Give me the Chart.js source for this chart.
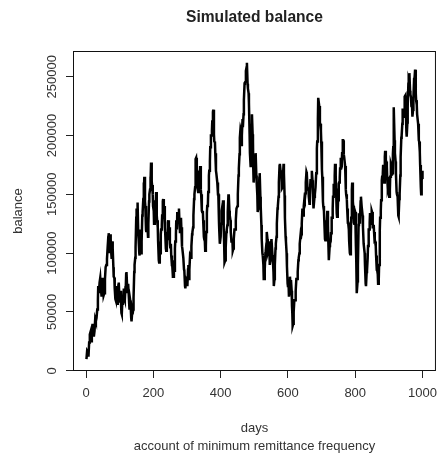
<!DOCTYPE html>
<html>
<head>
<meta charset="utf-8">
<script src="https://cdn.jsdelivr.net/npm/chart.js@4/dist/chart.umd.min.js"></script>
<style>
  html, body { margin: 0; padding: 0; background: #fff; }
  #wrap { width: 445px; height: 457px; }
</style>
</head>
<body>
<div id="wrap"><canvas id="c" width="445" height="457"></canvas></div>
<script>
// Simulated account balance by day
const days = [
  1,3,5,7,9,11,13,15,17,19,
  21,23,25,27,29,31,33,35,36,38,
  40,42,44,46,48,50,52,54,56,58,
  60,62,64,66,67,69,70,72,73,75,
  76,78,79,81,82,84,85,87,88,90,
  91,93,94,96,97,99,100,102,103,105,
  106,108,109,111,112,114,115,117,118,119,
  120,122,123,125,126,128,129,131,132,134,
  135,137,138,140,141,143,144,146,147,149,
  150,152,153,155,156,158,159,161,162,164,
  165,167,168,170,171,172,173,175,176,178,
  179,181,182,184,185,187,188,190,191,192,
  193,195,196,198,199,201,202,204,205,207,
  208,210,211,213,214,216,217,219,220,222,
  223,225,226,228,229,231,232,234,235,237,
  238,240,241,243,244,246,247,249,250,252,
  253,255,256,258,259,261,262,264,265,267,
  268,270,271,273,274,276,277,279,280,282,
  283,285,286,288,289,291,292,294,295,297,
  298,300,301,303,304,306,307,309,310,312,
  313,315,316,318,319,321,322,324,325,326,
  327,329,330,332,333,335,336,338,339,341,
  342,344,345,347,348,350,351,353,354,356,
  357,359,360,362,363,365,366,368,369,371,
  372,374,375,377,378,380,381,383,384,386,
  387,389,390,392,393,395,396,397,398,400,
  401,403,404,406,407,409,410,411,412,414,
  415,417,418,420,421,423,424,426,427,429,
  430,432,433,435,436,438,439,441,442,444,
  445,447,448,450,451,453,454,456,457,459,
  460,462,463,465,466,468,469,471,472,474,
  475,477,478,480,481,483,484,486,487,489,
  490,492,493,495,496,497,498,500,501,503,
  504,506,507,509,510,512,513,515,516,518,
  519,521,522,524,525,527,528,530,531,533,
  534,536,537,539,540,542,543,545,546,548,
  549,551,552,554,555,557,558,560,561,563,
  564,566,567,569,570,572,573,575,576,578,
  579,581,582,584,585,587,588,590,591,593,
  594,596,597,599,600,602,603,605,606,608,
  609,611,612,613,614,616,617,619,620,622,
  623,625,626,628,629,631,632,634,635,637,
  638,640,641,643,644,646,647,649,650,652,
  653,655,656,658,659,661,662,664,665,667,
  668,670,671,673,674,676,677,679,680,682,
  684,686,687,689,690,692,693,695,696,698,
  699,701,702,704,705,707,708,710,711,713,
  714,716,717,719,720,721,722,724,725,727,
  728,730,731,733,734,736,737,739,740,742,
  743,745,746,748,749,751,752,754,755,757,
  758,760,761,763,764,766,767,769,770,772,
  773,775,776,778,779,781,782,784,785,787,
  788,790,791,793,794,796,797,799,800,802,
  803,804,805,807,808,810,811,813,814,816,
  817,819,820,822,823,825,826,828,829,831,
  832,834,835,837,838,840,841,843,844,846,
  847,849,850,852,853,855,856,858,859,861,
  862,864,865,867,868,870,871,873,874,876,
  877,879,880,882,883,885,886,888,889,891,
  892,894,895,897,898,900,901,903,904,906,
  907,909,910,912,913,914,915,917,918,920,
  921,923,924,926,927,928,929,931,932,934,
  935,937,938,940,941,943,944,946,947,949,
  950,952,953,955,956,958,959,960,961,963,
  964,966,967,969,970,972,973,975,976,977,
  978,980,981,983,984,986,987,989,990,992,
  993,995,996,997,998,999,1000
];
const balance = [
  9900,17000,16000,12000,24000,31000,33000,25000,30000,40000,
  36000,29000,34000,44000,42000,45000,52000,60000,72000,66000,
  75000,79000,70000,63000,76000,79000,64000,66000,78000,88000,
  90000,95000,105000,114000,117000,104000,100000,116000,112000,99000,
  95000,110000,104000,88000,80000,79000,70000,61000,60000,71000,
  72000,57000,64000,73000,75000,62000,58000,68000,62000,49000,
  48000,61000,56000,67000,70000,61000,60000,71000,72000,82000,
  84000,71000,66000,74000,74000,57000,52000,60000,58000,45000,
  42000,50000,48000,52000,62000,84000,90000,96000,105000,130000,
  138000,128000,143000,116000,112000,100000,98000,116000,120000,100000,
  110000,132000,135000,146000,160000,150000,165000,144000,140000,120000,
  118000,130000,130000,114000,125000,144000,150000,154000,165000,160000,
  177000,161000,158000,150000,140000,136000,125000,142000,145000,136000,
  152000,132000,128000,122000,110000,94000,92000,108000,100000,116000,
  120000,124000,132000,144000,146000,131000,140000,122000,118000,104000,
  102000,112000,112000,126000,128000,114000,122000,108000,105000,108000,
  98000,90000,90000,80000,80000,94000,85000,104000,110000,116000,
  128000,120000,135000,126000,126000,138000,130000,118000,118000,130000,
  122000,106000,104000,104000,96000,86000,85000,72000,70000,78000,
  78000,76000,72000,86000,90000,78000,86000,98000,98000,96000,
  106000,116000,118000,122000,132000,146000,150000,156000,168000,180000,
  181000,171000,170000,154000,152000,164000,165000,166000,174000,154000,
  150000,136000,135000,136000,128000,114000,112000,110000,102000,106000,
  118000,134000,140000,142000,152000,166000,170000,178000,190000,200000,
  200000,204000,212000,220000,222000,201000,195000,194000,185000,170000,
  168000,168000,160000,150000,150000,126000,118000,116000,108000,114000,
  125000,136000,138000,136000,145000,121000,112000,104000,92000,94000,
  105000,118000,120000,124000,135000,149000,150000,136000,132000,128000,
  118000,110000,110000,110000,102000,104000,112000,120000,120000,120000,
  128000,138000,138000,140000,150000,166000,172000,184000,198000,206000,
  205000,192000,200000,214000,207000,218000,230000,244000,245000,246000,
  255000,258000,261800,244000,240000,236000,228000,201000,185000,174000,
  182000,209000,218000,201000,195000,171000,160000,170000,170000,176000,
  185000,166000,160000,149000,135000,138000,150000,164000,168000,148000,
  140000,124000,112000,100000,98000,90000,78000,78000,86000,100000,
  102000,108000,118000,112000,100000,102000,110000,102000,90000,94000,
  104000,112000,112000,98000,95000,84000,72000,78000,90000,104000,
  108000,114000,125000,138000,140000,148000,160000,174000,176000,170000,
  170000,164000,155000,156000,165000,176000,168000,149000,130000,114000,
  110000,100000,89000,74000,72000,72000,63000,68000,80000,70000,
  77000,68000,55000,49000,38000,40000,50000,60000,60000,60000,
  68000,78000,78000,78000,84000,94000,96000,100000,108000,114000,
  112000,116000,125000,138000,138000,132000,140000,146000,145000,151000,
  160000,169000,168000,156000,155000,154000,148000,142000,150000,162000,
  162000,162000,170000,162000,150000,138000,138000,148000,150000,156000,
  168000,189000,195000,214000,232000,232000,225000,211000,210000,204000,
  195000,171000,165000,144000,140000,136000,128000,112000,111000,120000,
  120000,126000,136000,124000,110000,96000,94000,106000,108000,110000,
  117000,130000,130000,138000,148000,158000,158000,166000,176000,166000,
  155000,134000,131000,136000,145000,159000,160000,164000,172000,180000,
  180000,178000,185000,196000,196000,184000,182000,182000,174000,154000,
  150000,146000,138000,126000,126000,120000,110000,100000,99000,114000,
  130000,154000,160000,144000,140000,126000,125000,136000,135000,106000,
  95000,84000,66000,76000,90000,124000,134000,126000,128000,144000,
  148000,140000,140000,132000,122000,108000,108000,100000,90000,74000,
  72000,84000,85000,96000,106000,120000,120000,126000,134000,124000,
  126000,136000,135000,122000,122000,124000,118000,108000,110000,106000,
  98000,86000,86000,82000,74000,78000,90000,119000,130000,136000,
  145000,162000,165000,168000,175000,161000,160000,182000,187000,178000,
  178000,174000,165000,154000,155000,154000,148000,154000,165000,176000,
  175000,166000,168000,184000,190000,214000,224000,196000,185000,178000,
  168000,152000,150000,148000,140000,132000,131000,146000,150000,166000,
  182000,198000,200000,210000,222000,222000,215000,222000,233000,234000,
  225000,204000,199000,211000,225000,244000,248000,247000,253000,238000,
  235000,232000,225000,224000,216000,222000,232000,248000,250000,249000,
  256000,236000,230000,226000,218000,218000,210000,196000,195000,186000,
  175000,156000,150000,158000,162000,164000,170000
];
const xTicks = [0, 200, 400, 600, 800, 1000];
const yTicks = [0, 50000, 100000, 150000, 200000, 250000];

const chartTitle = 'Simulated balance';
const xTitle = 'days';
const xSubtitle = 'account of minimum remittance frequency';
const yTitle = 'balance';

const points = days.map((d, i) => ({ x: d, y: balance[i] }));

const FONT = '"Liberation Sans", Arial, Helvetica, sans-serif';
const INK = '#333';

// Frame, rotated y tick labels and the titles
const decorations = {
  id: 'decorations',
  afterDraw(chart) {
    const { ctx, chartArea: a, scales } = chart;
    ctx.save();
    ctx.strokeStyle = '#111';
    ctx.lineWidth = 1;
    ctx.strokeRect(a.left + 0.5, a.top + 0.5, a.right - a.left - 1, a.bottom - a.top - 1);

    ctx.fillStyle = INK;
    ctx.font = '13px ' + FONT;
    ctx.textAlign = 'center';
    ctx.textBaseline = 'middle';
    yTicks.forEach(v => {
      const py = scales.y.getPixelForValue(v);
      ctx.save();
      ctx.translate(52, py);
      ctx.rotate(-Math.PI / 2);
      ctx.fillText(String(v), 0, 0);
      ctx.restore();
    });

    const cx = (a.left + a.right) / 2;
    const cy = (a.top + a.bottom) / 2;
    ctx.save();
    ctx.translate(18, cy);
    ctx.rotate(-Math.PI / 2);
    ctx.fillText(yTitle, 0, 0);
    ctx.restore();

    ctx.fillText(xTitle, cx, 428);
    ctx.fillText(xSubtitle, cx, 446);

    ctx.font = 'bold 15.6px ' + FONT;
    ctx.fillStyle = '#222';
    ctx.fillText(chartTitle, cx, 18);
    ctx.restore();
  }
};

new Chart(document.getElementById('c'), {
  type: 'line',
  data: {
    datasets: [{
      data: points,
      borderColor: '#000',
      borderWidth: 2.5,
      pointRadius: 0,
      tension: 0,
      fill: false
    }]
  },
  options: {
    responsive: false,
    animation: false,
    layout: { padding: { top: 51, right: 1, left: 0, bottom: 0 } },
    plugins: { legend: { display: false }, tooltip: { enabled: false }, title: { display: false } },
    scales: {
      x: {
        type: 'linear',
        min: -39,
        max: 1040,
        afterBuildTicks: s => { s.ticks = xTicks.map(v => ({ value: v })); },
        afterFit: s => { s.height = 86; },
        grid: { drawOnChartArea: false, drawTicks: true, tickLength: 7, color: '#222', lineWidth: 1 },
        border: { display: false },
        ticks: {
          color: INK,
          font: { family: FONT, size: 13 },
          padding: 8,
          maxRotation: 0,
          minRotation: 0,
          callback: v => String(v)
        }
      },
      y: {
        type: 'linear',
        min: -200,
        max: 271850,
        afterBuildTicks: s => { s.ticks = yTicks.map(v => ({ value: v })); },
        afterFit: s => { s.width = 73; },
        grid: { drawOnChartArea: false, drawTicks: true, tickLength: 7, color: '#222', lineWidth: 1 },
        border: { display: false },
        ticks: { display: false }
      }
    }
  },
  plugins: [decorations]
});
</script>
</body>
</html>
